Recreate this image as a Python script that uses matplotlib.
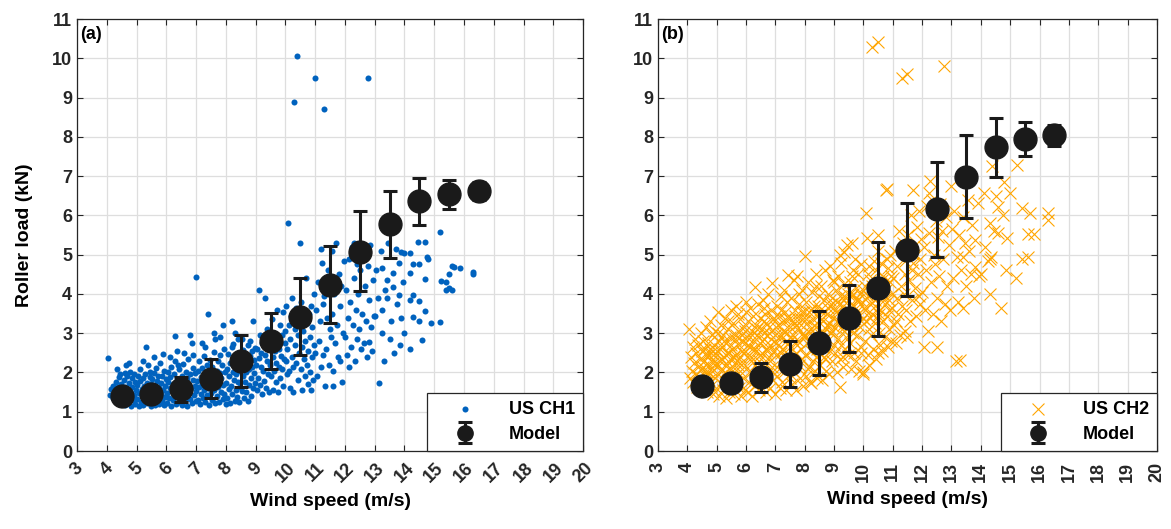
import matplotlib
matplotlib.use("Agg")
import matplotlib.pyplot as plt
from matplotlib.lines import Line2D
from matplotlib.container import ErrorbarContainer
from matplotlib.legend_handler import HandlerErrorbar

plt.rcParams['font.family'] = ['Liberation Sans', 'DejaVu Sans']
plt.rcParams['font.weight'] = 'bold'

# model bins (wind speed) and mean / error bar ends
model_ws = [4.5, 5.5, 6.5, 7.5, 8.5, 9.5, 10.5, 11.5, 12.5, 13.5, 14.5, 15.5, 16.5]

ch1_mean = [1.40, 1.45, 1.58, 1.84, 2.30, 2.81, 3.42, 4.23, 5.08, 5.78, 6.37, 6.54, 6.63]
ch1_low = [1.40, 1.45, 1.26, 1.36, 1.63, 2.09, 2.44, 3.27, 4.08, 4.91, 5.75, 6.17, 6.40]
ch1_high = [1.40, 1.45, 1.89, 2.34, 2.95, 3.52, 4.41, 5.22, 6.10, 6.63, 6.96, 6.91, 6.85]

ch2_mean = [1.65, 1.72, 1.89, 2.21, 2.74, 3.38, 4.14, 5.12, 6.16, 6.99, 7.73, 7.94, 8.04]
ch2_low = [1.65, 1.62, 1.50, 1.63, 1.93, 2.52, 2.94, 3.95, 4.95, 5.94, 6.99, 7.50, 7.77]
ch2_high = [1.65, 1.82, 2.25, 2.81, 3.56, 4.24, 5.33, 6.31, 7.37, 8.05, 8.48, 8.39, 8.31]

# measured roller load, channel 1 (wind speed, load)
ch1_points = [
    (4.05, 2.38), (4.1, 1.42), (4.15, 1.58), (4.2, 1.66), (4.22, 1.36), (4.28, 1.5), (4.3, 1.75),
    (4.33, 1.28), (4.38, 1.62), (4.4, 1.88), (4.42, 1.44), (4.47, 1.2), (4.48, 1.7), (4.35, 2.1),
    (4.45, 1.97),
    (4.52, 1.52), (4.55, 1.33), (4.57, 1.81), (4.6, 1.63), (4.62, 1.17), (4.64, 2.2), (4.66, 1.46),
    (4.68, 1.92), (4.7, 1.26), (4.72, 1.58), (4.74, 1.73), (4.77, 1.38), (4.79, 2.02), (4.8, 1.15),
    (4.82, 1.49), (4.84, 1.85), (4.86, 1.64), (4.88, 1.29), (4.9, 1.97), (4.92, 1.42), (4.94, 1.21),
    (4.96, 1.77), (4.98, 1.55), (4.75, 2.25), (4.6, 1.98),
    (5.01, 1.32), (5.03, 1.68), (5.05, 1.9), (5.07, 1.15), (5.09, 1.47), (5.11, 1.79), (5.13, 2.08),
    (5.15, 1.26), (5.17, 1.58), (5.19, 1.4), (5.21, 1.86), (5.23, 1.18), (5.25, 1.66), (5.27, 1.95),
    (5.29, 1.35), (5.3, 2.65), (5.32, 1.52), (5.34, 1.74), (5.36, 1.22), (5.38, 2.18), (5.4, 1.44),
    (5.42, 1.61), (5.44, 1.88), (5.46, 1.3), (5.48, 1.7), (5.49, 1.14), (5.2, 2.3), (5.45, 2.02),
    (5.51, 1.56), (5.53, 1.83), (5.55, 1.24), (5.57, 1.98), (5.59, 1.41), (5.61, 1.67), (5.63, 1.16),
    (5.65, 2.12), (5.67, 1.5), (5.69, 1.78), (5.71, 1.33), (5.73, 1.92), (5.75, 1.6), (5.77, 1.2),
    (5.79, 2.25), (5.81, 1.45), (5.83, 1.72), (5.85, 1.28), (5.87, 1.9), (5.89, 1.55), (5.91, 1.17),
    (5.93, 2.05), (5.95, 1.38), (5.97, 1.66), (5.99, 1.84), (5.6, 2.4), (5.9, 2.48),
    (6.01, 1.47), (6.03, 1.22), (6.05, 1.75), (6.07, 2.0), (6.09, 1.35), (6.11, 1.6), (6.13, 1.88),
    (6.15, 1.15), (6.17, 2.15), (6.19, 1.52), (6.21, 1.3), (6.23, 1.7), (6.25, 1.95), (6.27, 1.42),
    (6.29, 2.3), (6.3, 2.92), (6.31, 1.2), (6.33, 1.63), (6.35, 1.82), (6.37, 2.55), (6.39, 1.37),
    (6.41, 1.55), (6.43, 2.08), (6.45, 1.25), (6.47, 1.78), (6.49, 1.45), (6.12, 2.4), (6.38, 2.2),
    (6.51, 1.9), (6.53, 1.18), (6.55, 1.62), (6.57, 2.22), (6.59, 1.4), (6.61, 1.73), (6.63, 1.28),
    (6.65, 2.02), (6.67, 1.53), (6.69, 1.85), (6.71, 1.15), (6.73, 2.35), (6.75, 1.48), (6.77, 1.68),
    (6.79, 1.95), (6.8, 2.95), (6.81, 1.32), (6.83, 1.6), (6.85, 2.75), (6.87, 1.22), (6.89, 1.8),
    (6.91, 2.12), (6.93, 1.42), (6.95, 1.65), (6.97, 1.98), (6.99, 1.27), (6.6, 2.5), (6.9, 2.45),
    (7.0, 4.42), (7.01, 1.52), (7.03, 1.78), (7.05, 2.05), (7.07, 1.3), (7.09, 1.62), (7.11, 2.28),
    (7.13, 1.2), (7.15, 1.88), (7.17, 1.45), (7.19, 2.12), (7.21, 1.68), (7.23, 1.35), (7.25, 2.42),
    (7.27, 1.55), (7.29, 1.95), (7.3, 2.65), (7.31, 1.25), (7.33, 1.75), (7.35, 2.2), (7.37, 1.42),
    (7.39, 1.6), (7.4, 3.5), (7.41, 2.0), (7.43, 1.18), (7.45, 1.85), (7.47, 2.32), (7.49, 1.48),
    (7.2, 2.75),
    (7.51, 1.7), (7.53, 2.15), (7.55, 1.3), (7.57, 1.92), (7.59, 2.52), (7.61, 1.55), (7.63, 1.22),
    (7.65, 2.85), (7.67, 1.78), (7.69, 2.05), (7.71, 1.4), (7.73, 2.3), (7.75, 1.62), (7.77, 1.25),
    (7.79, 1.98), (7.81, 2.45), (7.83, 1.5), (7.85, 1.85), (7.87, 2.18), (7.89, 1.32), (7.9, 3.2),
    (7.91, 1.68), (7.93, 2.6), (7.95, 1.45), (7.97, 2.0), (7.99, 1.2), (7.6, 3.0), (7.8, 2.9),
    (8.01, 1.72), (8.03, 2.1), (8.05, 1.35), (8.07, 2.48), (8.09, 1.58), (8.11, 1.92), (8.13, 2.25),
    (8.15, 1.22), (8.17, 1.65), (8.19, 2.65), (8.21, 1.45), (8.23, 2.02), (8.25, 2.72), (8.27, 1.8),
    (8.29, 1.28), (8.3, 3.0), (8.31, 2.32), (8.33, 1.55), (8.35, 1.95), (8.37, 2.15), (8.39, 1.38),
    (8.41, 1.75), (8.43, 2.45), (8.45, 1.25), (8.47, 2.05), (8.49, 1.62), (8.2, 3.3), (8.4, 2.85),
    (8.51, 2.2), (8.53, 1.52), (8.55, 2.85), (8.57, 1.9), (8.59, 2.58), (8.61, 1.35), (8.63, 1.75),
    (8.65, 2.38), (8.67, 2.02), (8.69, 1.5), (8.71, 2.25), (8.73, 2.7), (8.75, 1.28), (8.77, 2.08),
    (8.79, 1.68), (8.8, 2.8), (8.81, 2.42), (8.83, 1.85), (8.85, 1.4), (8.87, 2.15), (8.89, 2.55),
    (8.9, 3.3), (8.91, 1.6), (8.93, 2.32), (8.95, 1.98), (8.97, 2.62), (8.99, 1.72),
    (9.01, 2.2), (9.03, 1.55), (9.05, 2.6), (9.07, 1.85), (9.1, 4.1), (9.11, 2.38), (9.13, 2.95),
    (9.15, 1.68), (9.17, 2.15), (9.19, 2.5), (9.21, 1.45), (9.23, 2.75), (9.25, 2.05), (9.27, 1.78),
    (9.3, 3.9), (9.31, 2.45), (9.33, 2.9), (9.35, 1.6), (9.37, 2.28), (9.39, 3.1), (9.41, 1.95),
    (9.43, 2.62), (9.45, 1.5), (9.47, 2.2), (9.49, 2.85),
    (9.51, 1.9), (9.53, 2.7), (9.55, 3.35), (9.57, 1.55), (9.59, 2.4), (9.61, 2.05), (9.63, 3.0),
    (9.65, 2.55), (9.67, 1.75), (9.69, 2.25), (9.71, 3.6), (9.73, 2.85), (9.75, 1.5), (9.77, 2.15),
    (9.79, 2.6), (9.81, 3.2), (9.83, 1.85), (9.85, 2.42), (9.87, 2.95), (9.89, 2.1), (9.91, 3.55),
    (9.93, 1.65), (9.95, 2.35), (9.97, 2.75), (9.99, 3.05),
    (10.01, 2.3), (10.03, 3.7), (10.05, 1.95), (10.07, 2.6), (10.1, 5.8), (10.11, 3.2), (10.13, 2.05),
    (10.15, 2.85), (10.17, 1.6), (10.19, 3.45), (10.21, 2.4), (10.23, 3.9), (10.25, 2.15), (10.27, 1.5),
    (10.3, 8.9), (10.31, 2.7), (10.33, 3.1), (10.35, 2.25), (10.37, 3.65), (10.4, 10.05), (10.41, 1.8),
    (10.43, 2.95), (10.45, 2.5), (10.47, 3.35),
    (10.5, 5.3), (10.51, 2.1), (10.53, 3.8), (10.55, 2.65), (10.57, 1.55), (10.59, 3.05), (10.61, 2.35),
    (10.63, 3.6), (10.65, 1.9), (10.67, 2.8), (10.7, 4.4), (10.71, 2.2), (10.73, 3.25), (10.75, 1.7),
    (10.77, 2.55), (10.79, 3.5), (10.81, 2.0), (10.83, 2.9), (10.85, 1.55), (10.87, 3.7), (10.89, 2.4),
    (10.91, 3.15), (10.93, 1.8), (10.95, 2.7), (10.97, 4.0),
    (11.0, 9.5), (11.01, 2.5), (11.04, 3.6), (11.07, 1.9), (11.1, 4.3), (11.13, 2.8), (11.16, 3.3),
    (11.19, 2.15), (11.22, 4.8), (11.25, 3.75), (11.28, 2.45), (11.3, 8.7), (11.31, 3.95), (11.34, 1.65),
    (11.37, 2.6), (11.4, 3.4), (11.43, 4.6), (11.46, 2.2), (11.49, 3.1), (11.2, 5.15),
    (11.52, 2.9), (11.55, 5.1), (11.58, 3.5), (11.6, 1.66), (11.61, 2.05), (11.64, 4.0), (11.67, 2.75),
    (11.7, 5.3), (11.73, 3.2), (11.76, 2.4), (11.79, 4.5), (11.82, 3.7), (11.85, 2.3), (11.88, 4.2),
    (11.91, 1.75), (11.94, 3.0), (11.97, 4.85),
    (12.0, 2.9), (12.03, 4.1), (12.06, 2.45), (12.09, 3.4), (12.12, 4.9), (12.15, 2.15), (12.18, 3.8),
    (12.21, 2.65), (12.24, 5.2), (12.27, 3.2), (12.3, 4.4), (12.3, 5.3), (12.33, 2.3), (12.36, 3.6),
    (12.39, 4.75), (12.42, 2.85), (12.45, 4.0), (12.48, 3.1),
    (12.52, 4.6), (12.55, 2.6), (12.58, 3.5), (12.61, 5.0), (12.64, 2.75), (12.67, 4.2), (12.7, 3.3),
    (12.73, 2.4), (12.76, 4.7), (12.78, 9.5), (12.8, 2.77), (12.82, 3.85), (12.85, 5.25), (12.88, 3.15),
    (12.91, 2.55), (12.94, 4.35), (12.97, 3.45),
    (13.0, 3.45), (13.05, 4.6), (13.1, 3.9), (13.15, 1.72), (13.2, 5.1), (13.25, 4.67), (13.25, 3.6),
    (13.25, 3.0), (13.3, 2.3), (13.35, 4.1), (13.4, 4.35), (13.4, 3.9), (13.45, 5.3), (13.5, 2.85),
    (13.55, 3.3), (13.6, 4.53), (13.6, 4.17), (13.65, 2.5), (13.7, 5.15), (13.75, 3.75), (13.8, 4.79),
    (13.8, 3.98), (13.85, 2.7), (13.9, 5.06), (13.9, 3.39), (13.95, 4.3),
    (14.0, 5.03), (14.0, 3.0), (14.2, 5.03), (14.2, 4.54), (14.2, 3.85), (14.2, 2.6), (14.3, 4.77),
    (14.3, 3.98), (14.3, 3.42), (14.45, 5.33), (14.5, 4.77), (14.5, 3.83), (14.5, 3.31), (14.6, 2.82),
    (14.7, 5.33), (14.7, 4.37), (14.7, 3.56), (14.75, 4.95), (14.8, 4.9), (14.9, 3.27),
    (15.2, 5.59), (15.2, 3.28), (15.23, 4.33), (15.4, 4.3), (15.4, 4.1), (15.5, 4.5), (15.5, 4.14),
    (15.6, 4.71), (15.6, 4.1), (15.67, 4.69), (15.85, 4.66), (16.3, 4.56), (16.3, 4.52),
]

# measured roller load, channel 2 (wind speed, load)
ch2_points = [
    (4.05, 3.1), (4.1, 1.85), (4.12, 2.4), (4.15, 2.05), (4.18, 2.65), (4.2, 1.75), (4.23, 2.25),
    (4.25, 2.85), (4.28, 1.95), (4.3, 2.5), (4.33, 1.62), (4.35, 2.15), (4.38, 2.7), (4.4, 1.88),
    (4.42, 2.35), (4.45, 3.0), (4.47, 1.7), (4.49, 2.55),
    (4.51, 2.1), (4.53, 1.58), (4.55, 2.8), (4.57, 2.3), (4.59, 1.9), (4.61, 2.6), (4.63, 3.15),
    (4.65, 2.0), (4.67, 1.5), (4.69, 2.45), (4.71, 2.75), (4.73, 1.8), (4.75, 2.2), (4.77, 3.3),
    (4.79, 1.65), (4.81, 2.5), (4.83, 2.95), (4.85, 2.05), (4.87, 1.45), (4.89, 2.35), (4.91, 2.7),
    (4.93, 1.85), (4.95, 3.05), (4.97, 2.25), (4.99, 1.6),
    (5.01, 2.55), (5.03, 3.55), (5.05, 1.95), (5.07, 2.8), (5.09, 1.4), (5.11, 2.3), (5.13, 3.2),
    (5.15, 2.1), (5.17, 1.7), (5.19, 2.65), (5.21, 2.95), (5.23, 1.55), (5.25, 2.4), (5.27, 3.4),
    (5.29, 2.0), (5.31, 1.35), (5.33, 2.75), (5.35, 2.2), (5.37, 3.1), (5.39, 1.8), (5.41, 2.5),
    (5.43, 1.5), (5.45, 2.9), (5.47, 2.35), (5.49, 3.6),
    (5.51, 1.9), (5.53, 2.6), (5.55, 3.25), (5.57, 2.15), (5.59, 1.45), (5.61, 2.85), (5.63, 2.45),
    (5.65, 3.7), (5.67, 1.75), (5.69, 2.3), (5.71, 3.05), (5.73, 3.5), (5.75, 1.6), (5.77, 2.7),
    (5.79, 2.05), (5.81, 3.35), (5.83, 1.4), (5.85, 2.55), (5.87, 2.95), (5.89, 1.85), (5.91, 2.25),
    (5.93, 3.15), (5.95, 1.55), (5.97, 2.75), (5.99, 3.8), (5.6, 2.0), (5.8, 2.4),
    (6.01, 2.1), (6.03, 2.9), (6.05, 1.5), (6.07, 3.3), (6.09, 2.45), (6.11, 1.75), (6.13, 3.65),
    (6.15, 2.65), (6.17, 2.0), (6.19, 3.05), (6.21, 1.4), (6.23, 2.35), (6.25, 3.45), (6.27, 2.8),
    (6.29, 1.65), (6.3, 4.17), (6.31, 2.2), (6.33, 3.2), (6.35, 2.55), (6.37, 1.85), (6.39, 2.95),
    (6.41, 3.75), (6.43, 2.3), (6.45, 1.55), (6.47, 2.75), (6.49, 3.4), (6.2, 2.6), (6.4, 2.1),
    (6.51, 2.0), (6.53, 3.1), (6.55, 2.5), (6.57, 3.85), (6.59, 1.7), (6.61, 2.85), (6.63, 2.25),
    (6.65, 3.5), (6.67, 1.5), (6.69, 3.25), (6.71, 2.6), (6.73, 1.95), (6.75, 4.0), (6.77, 2.4),
    (6.79, 3.0), (6.81, 1.6), (6.83, 2.7), (6.85, 3.6), (6.87, 4.27), (6.89, 2.15), (6.91, 1.8),
    (6.93, 3.35), (6.95, 2.55), (6.97, 2.95), (6.99, 1.46), (6.6, 3.0), (6.8, 2.3),
    (7.01, 2.45), (7.03, 3.15), (7.05, 1.9), (7.07, 3.7), (7.09, 2.7), (7.11, 2.1), (7.13, 3.45),
    (7.15, 1.6), (7.17, 2.9), (7.19, 3.95), (7.21, 2.3), (7.23, 1.75), (7.25, 3.25), (7.27, 2.6),
    (7.29, 4.1), (7.31, 2.0), (7.33, 3.55), (7.35, 2.8), (7.37, 1.55), (7.39, 3.0), (7.41, 2.4),
    (7.44, 4.48), (7.45, 3.35), (7.47, 2.15), (7.49, 1.85), (7.2, 2.95), (7.4, 3.8),
    (7.51, 2.65), (7.53, 3.9), (7.55, 2.25), (7.57, 1.7), (7.59, 3.3), (7.61, 2.95), (7.63, 4.35),
    (7.65, 2.0), (7.67, 3.6), (7.69, 2.5), (7.71, 1.55), (7.73, 3.1), (7.75, 4.45), (7.77, 2.8),
    (7.79, 2.2), (7.81, 3.75), (7.83, 1.85), (7.85, 3.4), (7.87, 2.6), (7.89, 4.1), (7.91, 2.35),
    (7.93, 3.0), (7.95, 1.65), (7.97, 3.55), (7.99, 2.9), (8.0, 4.97), (7.7, 3.2),
    (8.01, 2.45), (8.03, 3.8), (8.05, 1.9), (8.07, 3.25), (8.09, 2.75), (8.11, 4.3), (8.13, 2.15),
    (8.15, 3.55), (8.17, 1.75), (8.19, 3.0), (8.21, 2.55), (8.23, 1.72), (8.25, 4.05), (8.27, 3.35),
    (8.29, 2.3), (8.31, 2.9), (8.33, 3.7), (8.35, 2.05), (8.37, 4.5), (8.39, 3.15), (8.41, 2.6),
    (8.43, 1.85), (8.45, 3.45), (8.47, 2.85), (8.49, 3.95), (8.2, 3.1), (8.4, 2.4),
    (8.51, 2.2), (8.53, 3.6), (8.55, 2.95), (8.57, 4.2), (8.59, 1.8), (8.61, 3.3), (8.63, 2.65),
    (8.65, 3.85), (8.67, 2.4), (8.69, 4.6), (8.71, 3.1), (8.73, 2.05), (8.75, 3.5), (8.77, 2.8),
    (8.79, 4.0), (8.81, 1.95), (8.83, 3.25), (8.86, 4.7), (8.87, 2.55), (8.89, 3.75), (8.91, 3.0),
    (8.93, 2.3), (8.95, 4.35), (8.97, 3.4), (8.99, 2.7), (8.6, 3.05), (8.8, 3.65),
    (9.01, 3.15), (9.03, 2.5), (9.05, 4.1), (9.07, 3.55), (9.09, 2.0), (9.11, 3.8), (9.13, 2.85),
    (9.15, 4.45), (9.17, 3.3), (9.19, 2.35), (9.2, 1.63), (9.21, 3.95), (9.23, 2.7), (9.25, 4.8),
    (9.27, 3.45), (9.29, 2.15), (9.31, 3.7), (9.33, 3.05), (9.35, 4.25), (9.37, 2.6), (9.39, 3.9),
    (9.41, 2.9), (9.43, 5.25), (9.45, 3.5), (9.47, 2.45), (9.49, 4.0), (9.3, 3.2), (9.35, 5.07),
    (9.2, 5.0),
    (9.51, 3.6), (9.53, 2.75), (9.55, 4.3), (9.57, 3.25), (9.59, 2.1), (9.61, 3.95), (9.6, 5.3),
    (9.63, 3.0), (9.65, 4.6), (9.67, 2.5), (9.69, 3.7), (9.71, 3.35), (9.73, 4.15), (9.75, 2.3),
    (9.77, 3.85), (9.79, 2.95), (9.81, 4.5), (9.83, 3.5), (9.85, 2.05), (9.87, 4.0), (9.89, 3.15),
    (9.91, 2.65), (9.93, 4.75), (9.95, 3.8), (9.97, 2.0), (9.99, 3.4), (9.7, 4.9),
    (10.0, 1.97), (10.02, 3.65), (10.04, 4.2), (10.06, 2.8), (10.08, 3.3), (10.1, 6.05), (10.12, 3.9),
    (10.14, 2.45), (10.16, 4.5), (10.18, 3.1), (10.2, 2.2), (10.22, 3.75), (10.24, 4.35), (10.26, 2.95),
    (10.28, 3.5), (10.3, 10.3), (10.32, 4.05), (10.34, 2.6), (10.36, 4.85), (10.38, 3.25), (10.4, 3.85),
    (10.42, 2.35), (10.44, 4.6), (10.46, 3.4), (10.48, 5.1), (10.5, 10.42), (10.12, 5.42),
    (10.52, 3.0), (10.54, 4.25), (10.56, 3.6), (10.58, 2.7), (10.6, 4.8), (10.62, 3.95), (10.64, 2.55),
    (10.66, 3.3), (10.68, 4.45), (10.5, 5.5), (10.72, 3.75), (10.74, 2.9), (10.77, 6.65), (10.78, 4.1),
    (10.8, 3.45), (10.82, 2.65), (10.84, 4.65), (10.86, 3.85), (10.88, 3.1), (10.9, 5.0), (10.92, 4.3),
    (10.94, 2.8), (10.96, 3.65), (10.98, 4.0), (10.8, 6.67),
    (11.02, 4.4), (11.05, 3.2), (11.08, 5.1), (11.1, 2.75), (11.13, 3.9), (11.16, 4.7), (11.19, 3.5),
    (11.22, 5.6), (11.25, 2.95), (11.28, 4.2), (11.3, 9.5), (11.31, 3.7), (11.34, 5.3), (11.37, 4.0),
    (11.4, 3.05), (11.43, 4.85), (11.46, 3.6), (11.5, 9.6), (11.49, 2.9), (11.52, 5.5), (11.55, 4.35),
    (11.58, 3.3), (11.61, 6.0), (11.64, 4.6), (11.67, 3.85), (11.7, 6.65), (11.73, 5.0), (11.76, 4.15),
    (11.79, 3.45), (11.82, 5.7), (11.85, 4.5), (11.88, 6.1), (11.91, 3.75), (11.94, 4.9), (11.97, 5.4),
    (12.0, 4.05), (12.05, 2.65), (12.08, 5.2), (12.1, 3.6), (12.14, 4.6), (12.18, 6.25), (12.2, 3.05),
    (12.22, 5.55), (12.25, 6.57), (12.27, 6.87), (12.3, 4.3), (12.33, 6.4), (12.36, 3.5), (12.4, 5.0),
    (12.43, 4.75), (12.46, 5.85), (12.5, 2.65), (12.52, 3.9), (12.55, 5.45), (12.58, 4.45), (12.6, 6.3),
    (12.64, 3.3), (12.68, 5.6), (12.72, 4.9), (12.75, 9.8), (12.78, 3.75), (12.82, 5.95), (12.86, 4.2),
    (12.9, 5.25), (12.94, 3.6), (12.97, 6.74),
    (13.02, 5.65), (13.06, 4.4), (13.1, 6.1), (13.15, 2.28), (13.18, 4.95), (13.22, 3.8), (13.26, 5.5),
    (13.3, 2.31), (13.33, 4.6), (13.4, 5.97), (13.4, 4.94), (13.4, 3.63), (13.45, 5.3), (13.5, 4.2),
    (13.55, 6.4), (13.6, 5.1), (13.65, 4.5), (13.7, 5.75), (13.75, 3.9), (13.8, 5.38), (13.8, 4.68),
    (13.9, 6.31), (13.95, 4.45),
    (14.0, 4.5), (14.1, 6.56), (14.15, 5.2), (14.25, 4.85), (14.3, 5.81), (14.3, 4.9), (14.3, 4.0),
    (14.35, 4.95), (14.39, 7.27), (14.45, 5.6), (14.6, 6.22), (14.6, 5.54), (14.7, 3.63), (14.75, 6.0),
    (14.8, 6.86), (14.85, 4.6), (14.9, 5.42), (15.0, 6.56), (14.5, 6.5),
    (15.2, 4.4), (15.24, 7.29), (15.4, 6.2), (15.4, 4.9), (15.6, 5.52), (15.6, 4.95), (15.66, 6.05),
    (15.8, 5.52), (16.3, 6.05), (16.3, 5.88),
    # core of the cloud
    (4.55, 2.15), (4.62, 2.45), (4.7, 2.0), (4.78, 2.6), (4.86, 2.25), (4.94, 2.5), (5.02, 2.15),
    (5.1, 2.6), (5.18, 2.35), (5.26, 2.8), (5.34, 2.5), (5.42, 2.1), (5.5, 2.7), (5.58, 2.4),
    (5.66, 2.95), (5.74, 2.2), (5.82, 2.8), (5.9, 2.5), (5.98, 3.05), (6.06, 2.7), (6.14, 2.35),
    (6.22, 2.95), (6.3, 2.6), (6.38, 3.1), (6.46, 2.45), (6.54, 2.8), (6.62, 3.3), (6.7, 2.55),
    (6.78, 3.15), (6.86, 2.85), (6.94, 3.4), (7.02, 2.75), (7.1, 3.2), (7.18, 2.5), (7.26, 3.05),
    (7.34, 3.35), (7.42, 2.75), (7.5, 3.15), (7.58, 2.85), (7.66, 3.45), (7.74, 2.7), (7.82, 3.25),
    (7.9, 3.55), (7.98, 2.95), (8.06, 3.35), (8.14, 2.8), (8.22, 3.6), (8.3, 3.2), (8.38, 2.95),
    (8.46, 3.7), (8.54, 3.35), (8.62, 3.0), (8.7, 3.55), (8.78, 3.2), (8.86, 3.85), (8.94, 3.05),
    (9.02, 3.6), (9.1, 3.3), (9.18, 3.75), (9.26, 3.1), (9.34, 3.95), (9.42, 3.4), (9.5, 3.7),
    (9.58, 3.2), (9.66, 4.0), (9.74, 3.55), (9.82, 3.85), (9.9, 3.3), (9.98, 4.1), (10.06, 3.6),
    (10.14, 3.95), (10.22, 3.4), (10.3, 4.2), (10.38, 3.7), (10.46, 4.0), (10.54, 3.5), (10.62, 4.35),
    (10.7, 3.85), (10.78, 4.2), (10.86, 3.6), (10.94, 4.45),
    (5.05, 3.0), (5.4, 3.3), (5.7, 1.7), (6.0, 3.55), (6.3, 1.8), (6.6, 3.65), (6.9, 2.0),
    (7.2, 3.6), (7.5, 1.95), (7.8, 4.0), (8.1, 2.1), (8.4, 4.2), (8.7, 2.35), (9.0, 4.3),
    (9.3, 2.4), (9.6, 4.45), (9.9, 2.5), (10.2, 4.7), (10.5, 2.5), (10.8, 4.9), (11.1, 3.3),
    (11.4, 4.5), (11.7, 4.8), (11.9, 3.95),
]

x_ticks = list(range(3, 21))
y_ticks = list(range(0, 12))

blue = '#0062BE'
orange = '#FFA500'
black = '#1a1a1a'


def legend_props(handle, orig):
    # copy the plotted style, then shrink the round marker of the model entry
    handle.update_from(orig)
    if isinstance(handle, Line2D) and handle.get_marker() == 'o':
        handle.set_markersize(11)


def draw_panel(ax, points, marker_style, label, mean, low, high, tag, rot, tpad, lpad):
    xs = [p[0] for p in points]
    ys = [p[1] for p in points]
    if marker_style == 'dot':
        ax.scatter(xs, ys, s=19, c=blue, marker='o', linewidths=0, label=label, zorder=2)
    else:
        ax.scatter(xs, ys, s=74, c=orange, marker='x', linewidths=0.8, label=label, zorder=2)
    err = [[m - lo for m, lo in zip(mean, low)], [hi - m for m, hi in zip(mean, high)]]
    ax.errorbar(model_ws, mean, yerr=err, fmt='o', color=black, ms=16.5, elinewidth=2.2,
                capsize=5, capthick=2.2, label='Model', zorder=3)
    ax.set_xlim(3, 20)
    ax.set_ylim(0, 11)
    ax.set_xticks(x_ticks)
    ax.set_yticks(y_ticks)
    ax.grid(True, color='#dedede', linewidth=0.9)
    ax.set_axisbelow(True)
    ax.tick_params(direction='in', top=True, right=True, length=4, width=0.8,
                   labelsize=13, colors='#262626')
    ax.tick_params(axis='x', pad=tpad)
    for lab in ax.get_xticklabels():
        lab.set_rotation(rot)
        lab.set_ha('center')
        lab.set_fontweight('bold')
    for lab in ax.get_yticklabels():
        lab.set_fontweight('bold')
    for sp in ax.spines.values():
        sp.set_color('#262626')
        sp.set_linewidth(0.9)
    ax.set_xlabel('Wind speed (m/s)', fontsize=14, fontweight='bold', labelpad=lpad)
    ax.text(0.006, 0.984, tag, transform=ax.transAxes, ha='left', va='top',
            fontsize=13, fontweight='bold', color='black')
    leg = ax.legend(loc='lower right', borderaxespad=0, fancybox=False, framealpha=1,
                    edgecolor='#262626', fontsize=13, handlelength=3.3, handletextpad=0.8,
                    borderpad=0.45, labelspacing=0.45, scatterpoints=1,
                    handler_map={ErrorbarContainer: HandlerErrorbar(yerr_size=0.6,
                                                                    update_func=legend_props)})
    leg.get_frame().set_linewidth(0.9)
    for t in leg.get_texts():
        t.set_fontweight('bold')
    return leg


fig = plt.figure(figsize=(11.71, 5.29), dpi=100)
ax1 = fig.add_axes([0.0658, 0.1474, 0.4321, 0.8166])
ax2 = fig.add_axes([0.5619, 0.1474, 0.4261, 0.8166])

draw_panel(ax1, ch1_points, 'dot', 'US CH1', ch1_mean, ch1_low, ch1_high, '(a)', 45, 6, 5)
draw_panel(ax2, ch2_points, 'x', 'US CH2', ch2_mean, ch2_low, ch2_high, '(b)', 90, 8, 6)

ax1.set_ylabel('Roller load (kN)', fontsize=14, fontweight='bold', labelpad=14)

fig.savefig('out.png', dpi=100)
